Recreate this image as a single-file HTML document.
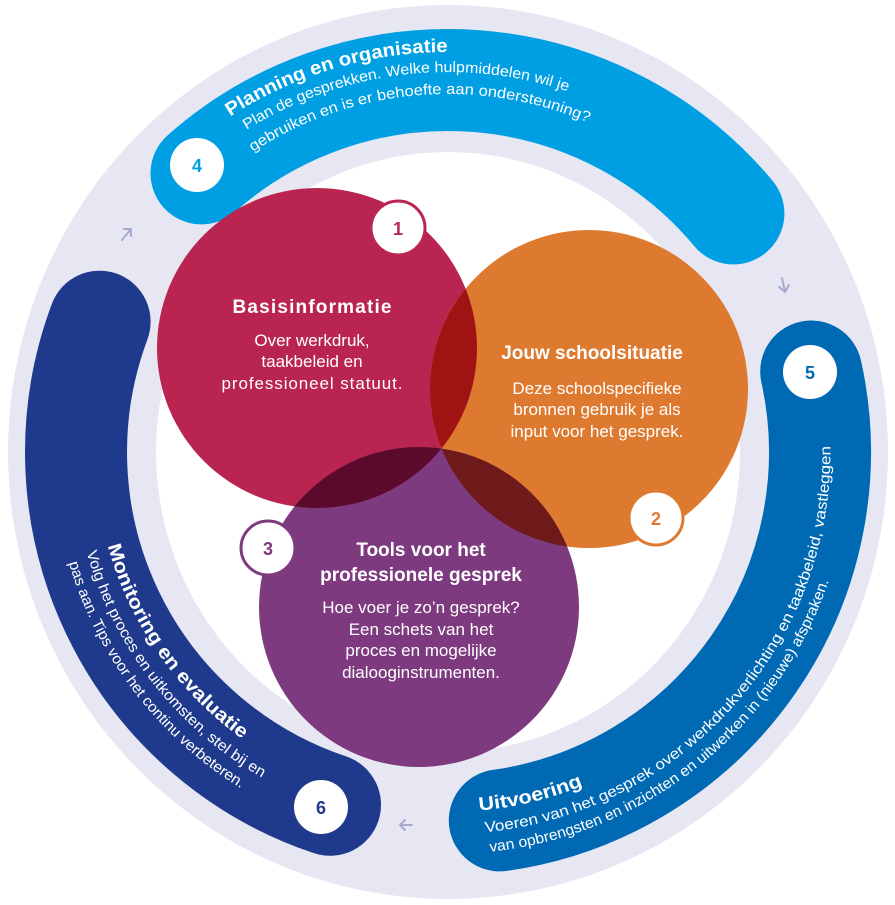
<!DOCTYPE html>
<html><head><meta charset="utf-8"><style>
html,body{margin:0;padding:0;background:#fff;}
svg{display:block;font-family:"Liberation Sans Narrow","Liberation Sans",sans-serif;}
</style></head><body>
<svg width="895" height="905" viewBox="0 0 895 905" xmlns="http://www.w3.org/2000/svg">
<defs>
<clipPath id="c1"><circle cx="317" cy="348" r="160"/></clipPath>
<clipPath id="c2"><circle cx="589" cy="389" r="159"/></clipPath>
<path id="t1" d="M230.2 116.5 A400 400 0 0 1 482.9 53.5"/>
<path id="t2" d="M246.6 129.8 A380 380 0 0 1 638 122.9"/>
<path id="t3" d="M253 151.7 A358 358 0 0 1 653.3 158.7"/>
<path id="r1" d="M479.4 810.6 A360 360 0 0 0 808 452"/>
<path id="r2" d="M485.3 832.2 A382 382 0 0 0 813.8 340.2"/>
<path id="r3" d="M490 851.8 A402 402 0 0 0 850 452"/>
<path id="l1" d="M107.7 545.8 A353 353 0 0 0 386.7 799.6"/>
<path id="l2" d="M86.7 552.2 A375 375 0 0 0 382.9 821.3"/>
<path id="l3" d="M68.9 562.9 A395 395 0 0 0 379.4 841"/>
</defs>
<ellipse cx="448" cy="452" rx="440" ry="447" fill="#e7e7f3"/>
<ellipse cx="448" cy="452" rx="292" ry="300" fill="#fff"/>
<g fill="none" stroke-width="102" stroke-linecap="round">
<path d="M201.5 173.4 A372 372 0 0 1 733.4 213.4" stroke="#009fe3"/>
<path d="M330 804.8 A372 372 0 0 1 99.6 321.7" stroke="#1f3a8c"/>
<path d="M811.2 371.5 A372 372 0 0 1 499.8 820.4" stroke="#0069b4"/>
</g>
<g stroke="#a8a8d0" stroke-width="2" fill="none" stroke-linecap="round">
<path d="M122 240 L131 229 M124 229 L131 229 L131 236"/>
<path d="M782 278 L785 292 M779 287 L785 292 L789 285"/>
<path d="M400 825 L412 825 M405 820 L400 825 L405 830"/>
</g>
<circle cx="317" cy="348" r="160" fill="#b92550"/>
<circle cx="589" cy="389" r="159" fill="#de7a30"/>
<circle cx="419" cy="607" r="160" fill="#7e3a7e"/>
<circle cx="589" cy="389" r="159" fill="#a01313" clip-path="url(#c1)"/>
<circle cx="419" cy="607" r="160" fill="#5c0a2c" clip-path="url(#c1)"/>
<g clip-path="url(#c2)"><circle cx="419" cy="607" r="160" fill="#6e1a1a"/></g>
<g font-weight="bold" font-size="18" text-anchor="middle">
<circle cx="398" cy="228" r="27" fill="#fff" stroke="#b92550" stroke-width="3"/>
<text x="398" y="235" fill="#b92550">1</text>
<circle cx="656" cy="518" r="27" fill="#fff" stroke="#de7a30" stroke-width="3"/>
<text x="656" y="525" fill="#de7a30">2</text>
<circle cx="268" cy="548" r="27" fill="#fff" stroke="#7e3a7e" stroke-width="3"/>
<text x="268" y="555" fill="#7e3a7e">3</text>
<circle cx="197" cy="165" r="27" fill="#fff"/>
<text x="197" y="172" fill="#009fe3">4</text>
<circle cx="810" cy="372" r="27" fill="#fff"/>
<text x="810" y="379" fill="#0069b4">5</text>
<circle cx="321" cy="807" r="27" fill="#fff"/>
<text x="321" y="814" fill="#1f3a8c">6</text>
</g>
<g fill="#fff" text-anchor="middle">
<text x="312" y="313" font-size="19" font-weight="bold" textLength="159">Basisinformatie</text>
<text x="312" y="346" font-size="17">Over werkdruk,</text>
<text x="312" y="367" font-size="17">taakbeleid en</text>
<text x="312" y="389" font-size="17" textLength="181">professioneel statuut.</text>
<text x="592" y="359" font-size="19" font-weight="bold">Jouw schoolsituatie</text>
<text x="597" y="394" font-size="17">Deze schoolspecifieke</text>
<text x="597" y="415" font-size="17">bronnen gebruik je als</text>
<text x="597" y="437" font-size="17">input voor het gesprek.</text>
<text x="421" y="556" font-size="19" font-weight="bold">Tools voor het</text>
<text x="421" y="581" font-size="19" font-weight="bold">professionele gesprek</text>
<text x="421" y="613" font-size="17">Hoe voer je zo’n gesprek?</text>
<text x="421" y="635" font-size="17">Een schets van het</text>
<text x="421" y="656" font-size="17">proces en mogelijke</text>
<text x="421" y="678" font-size="17">dialooginstrumenten.</text>
</g>
<g fill="#fff">
<text font-size="19" font-weight="bold"><textPath href="#t1" textLength="230" lengthAdjust="spacingAndGlyphs">Planning en organisatie</textPath></text>
<text font-size="15"><textPath href="#t2" textLength="334" lengthAdjust="spacingAndGlyphs">Plan de gesprekken. Welke hulpmiddelen wil je</textPath></text>
<text font-size="15"><textPath href="#t3" textLength="350" lengthAdjust="spacingAndGlyphs">gebruiken en is er behoefte aan ondersteuning?</textPath></text>
<text font-size="19" font-weight="bold"><textPath href="#r1" textLength="107" lengthAdjust="spacingAndGlyphs">Uitvoering</textPath></text>
<text font-size="15"><textPath href="#r2" textLength="569" lengthAdjust="spacingAndGlyphs">Voeren van het gesprek over werkdrukverlichting en taakbeleid, vastleggen</textPath></text>
<text font-size="15"><textPath href="#r3" textLength="458" lengthAdjust="spacingAndGlyphs">van opbrengsten en inzichten en uitwerken in (nieuwe) afspraken.</textPath></text>
<text font-size="19" font-weight="bold"><textPath href="#l1" textLength="240" lengthAdjust="spacingAndGlyphs">Monitoring en evaluatie</textPath></text>
<text font-size="15"><textPath href="#l2" textLength="293" lengthAdjust="spacingAndGlyphs">Volg het proces en uitkomsten, stel bij en</textPath></text>
<text font-size="15"><textPath href="#l3" textLength="290" lengthAdjust="spacingAndGlyphs">pas aan. Tips voor het continu verbeteren.</textPath></text>
</g>
</svg>
</body></html>
